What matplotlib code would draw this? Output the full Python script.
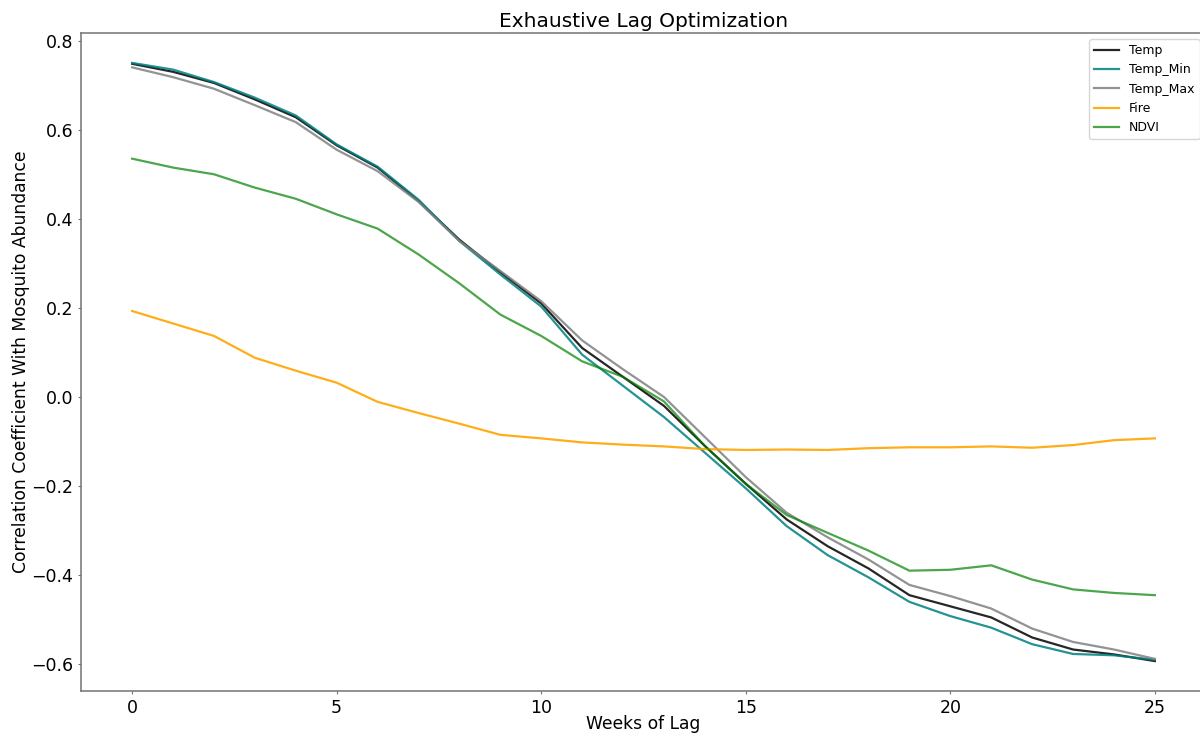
import numpy as np
import matplotlib
matplotlib.use('Agg')
import matplotlib.pyplot as plt

# Tygodnie opoznienia
weeks = np.arange(26)

# Korelacje dla kazdej zmiennej
temp = [0.748, 0.730, 0.705, 0.668, 0.628, 0.565, 0.515, 0.440, 0.353, 0.280,
        0.210, 0.110, 0.045, -0.020, -0.110, -0.195, -0.275, -0.335, -0.385, -0.445,
        -0.470, -0.495, -0.540, -0.567, -0.578, -0.593]
temp_min = [0.750, 0.735, 0.707, 0.672, 0.632, 0.567, 0.517, 0.443, 0.350, 0.275,
            0.203, 0.095, 0.025, -0.045, -0.125, -0.205, -0.290, -0.355, -0.405, -0.460,
            -0.492, -0.518, -0.555, -0.577, -0.580, -0.590]
temp_max = [0.740, 0.718, 0.692, 0.655, 0.617, 0.555, 0.507, 0.438, 0.350, 0.283,
            0.215, 0.127, 0.062, 0.000, -0.090, -0.180, -0.260, -0.315, -0.365, -0.422,
            -0.447, -0.475, -0.520, -0.550, -0.567, -0.588]
fire = [0.193, 0.165, 0.137, 0.088, 0.059, 0.032, -0.011, -0.036, -0.060, -0.085,
        -0.093, -0.102, -0.107, -0.111, -0.117, -0.119, -0.118, -0.119, -0.115, -0.113,
        -0.113, -0.111, -0.114, -0.108, -0.097, -0.093]
ndvi = [0.535, 0.515, 0.500, 0.470, 0.445, 0.410, 0.378, 0.320, 0.255, 0.185,
        0.137, 0.080, 0.045, -0.010, -0.110, -0.195, -0.265, -0.305, -0.345, -0.390,
        -0.388, -0.378, -0.410, -0.432, -0.440, -0.445]

fig = plt.figure(figsize=(12, 7.35), dpi=100)
ax = fig.add_axes([81 / 1200, 44 / 735, 1125 / 1200, 658 / 735])

ax.plot(weeks, temp, color='black', alpha=0.85, lw=1.6, label='Temp')
ax.plot(weeks, temp_min, color='teal', alpha=0.85, lw=1.6, label='Temp_Min')
ax.plot(weeks, temp_max, color='grey', alpha=0.85, lw=1.6, label='Temp_Max')
ax.plot(weeks, fire, color='orange', alpha=0.9, lw=1.6, label='Fire')
ax.plot(weeks, ndvi, color='green', alpha=0.7, lw=1.6, label='NDVI')

ax.set_title('Exhaustive Lag Optimization', fontsize=14.5, pad=4)
ax.set_xlabel('Weeks of Lag', fontsize=12.3, labelpad=-1)
ax.set_ylabel('Correlation Coefficient With Mosquito Abundance', fontsize=12.3, labelpad=1)
ax.tick_params(labelsize=12.5, length=2.5, pad=3, color='0.45')
for s in ax.spines.values():
    s.set_color('0.45')
    s.set_linewidth(1.1)
ax.legend(loc='upper right', fontsize=9)

fig.savefig('out.png', dpi=100)
